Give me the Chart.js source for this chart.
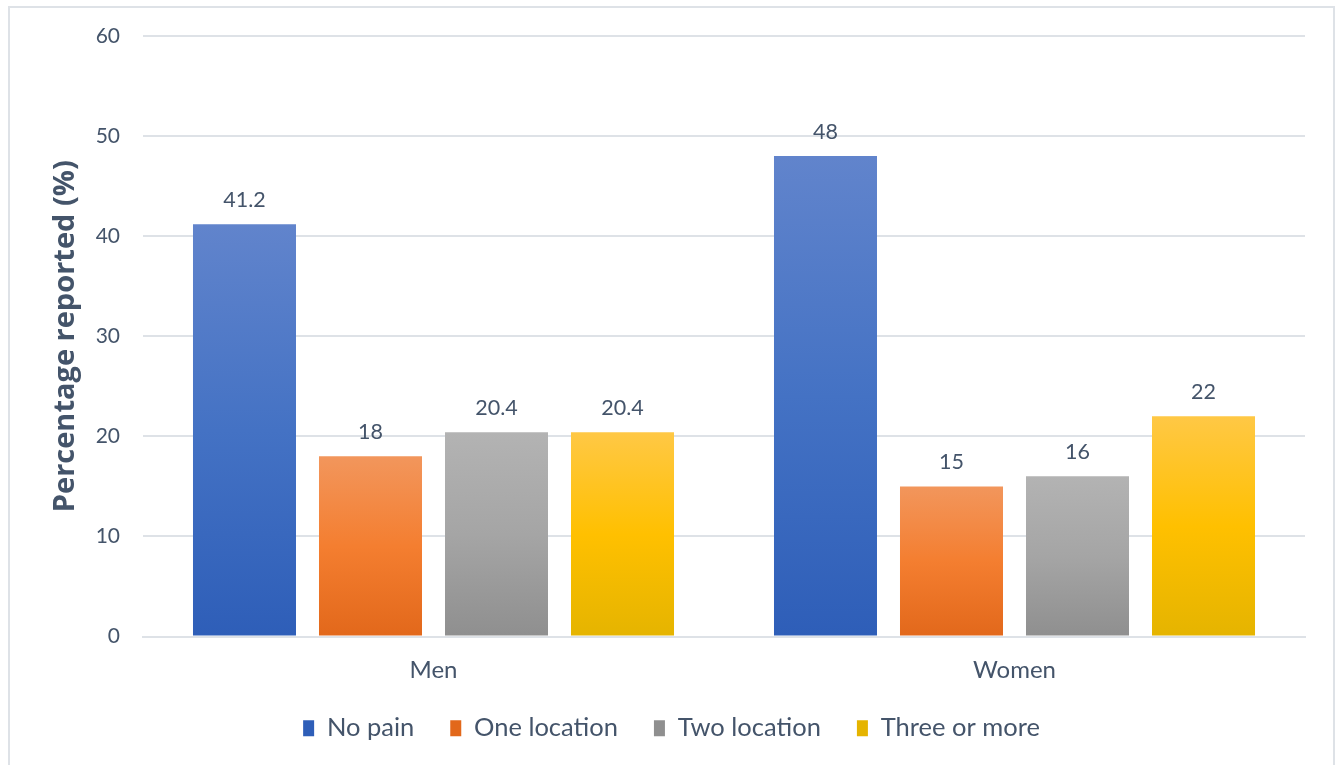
<!DOCTYPE html>
<html>
<head>
<meta charset="utf-8">
<script src="https://cdn.jsdelivr.net/npm/chart.js@4/dist/chart.umd.min.js"></script>
<style>
  html, body { margin: 0; padding: 0; background: #ffffff; }
  #wrap { position: absolute; left: 0; top: 0; width: 1338px; height: 765px; }
</style>
</head>
<body>
<div id="wrap"><canvas id="c" width="1338" height="765"></canvas></div>
<script>
const categories = ["Men", "Women"];
const seriesNames = ["No pain", "One location", "Two location", "Three or more"];
const noPain = [41.2, 48];
const oneLocation = [18, 15];
const twoLocation = [20.4, 16];
const threeOrMore = [20.4, 22];
const yTicks = [0, 10, 20, 30, 40, 50, 60];
const axisTitle = "Percentage reported (%)";

const palettes = [
  ["#6184CC", "#4472C4", "#2E5EB8"],
  ["#F2965C", "#F47E30", "#E2681B"],
  ["#B3B3B3", "#A5A5A5", "#8F8F8F"],
  ["#FFC845", "#FFC000", "#E5B400"]
];
const textColor = "#44546A";
const gridColor = "#DEE2E7";
const FONT = "Lato, 'Open Sans', sans-serif";

function gradFill(idx) {
  return function(ctx) {
    const p = palettes[idx];
    if (ctx.type !== 'data' || !ctx.chart.chartArea) return p[1];
    const y = ctx.chart.scales.y;
    const top = y.getPixelForValue(ctx.raw);
    const bottom = y.getPixelForValue(0);
    if (!isFinite(top) || !isFinite(bottom) || top === bottom) return p[1];
    const g = ctx.chart.ctx.createLinearGradient(0, top, 0, bottom);
    g.addColorStop(0, p[0]);
    g.addColorStop(0.5, p[1]);
    g.addColorStop(1, p[2]);
    return g;
  };
}

const seriesData = [noPain, oneLocation, twoLocation, threeOrMore];

const datasets = seriesNames.map((name, i) => ({
  label: name,
  data: seriesData[i],
  backgroundColor: gradFill(i),
  borderWidth: 0,
  categoryPercentage: 0.8675,
  barPercentage: 0.8175
}));

const frameAndLabels = {
  id: 'frameAndLabels',
  afterLayout(chart) {
    const l = chart.legend;
    if (l) {
      l.top -= 12; l.bottom -= 12;
      l.left += 14; l.right += 14;
    }
  },
  beforeDraw(chart) {
    const c = chart.ctx;
    c.save();
    c.strokeStyle = "#DEE2E7";
    c.lineWidth = 2;
    c.strokeRect(9, 7, 1325, 800);
    c.restore();
  },
  afterDatasetsDraw(chart) {
    const c = chart.ctx;
    c.save();
    c.font = "21.5px " + FONT;
    c.fillStyle = textColor;
    c.textAlign = "center";
    c.textBaseline = "middle";
    chart.data.datasets.forEach((ds, di) => {
      const meta = chart.getDatasetMeta(di);
      meta.data.forEach((el, i) => {
        c.fillText(String(ds.data[i]), el.x, el.y - 24);
      });
    });
    c.restore();
  }
};

new Chart(document.getElementById('c'), {
  type: 'bar',
  data: { labels: categories, datasets },
  plugins: [frameAndLabels],
  options: {
    responsive: false,
    animation: false,
    layout: { padding: { left: 10, right: 33, top: 36, bottom: 2 } },
    plugins: {
      tooltip: { enabled: false },
      legend: {
        position: 'bottom',
        labels: {
          color: textColor,
          font: { family: FONT, size: 25.5 },
          boxWidth: 11,
          boxHeight: 16,
          padding: 36
        }
      }
    },
    scales: {
      x: {
        grid: { display: false, drawTicks: false },
        border: { display: true, color: gridColor, width: 2 },
        ticks: { color: textColor, font: { family: FONT, size: 24 }, padding: 19 },
        afterFit(s) { s.height = 55; }
      },
      y: {
        min: 0, max: 60,
        afterBuildTicks(s) { s.ticks = yTicks.map(v => ({ value: v })); },
        grid: { color: gridColor, lineWidth: 2, drawTicks: false },
        border: { display: false },
        ticks: { color: textColor, font: { family: FONT, size: 21 }, padding: 23 },
        title: {
          display: true,
          text: axisTitle,
          color: textColor,
          font: { family: "'Open Sans', Lato, sans-serif", size: 29, weight: 'bold' },
          padding: { top: 38, bottom: 0 }
        },
        afterFit(s) { s.width = 133; }
      }
    }
  }
});
</script>
</body>
</html>
